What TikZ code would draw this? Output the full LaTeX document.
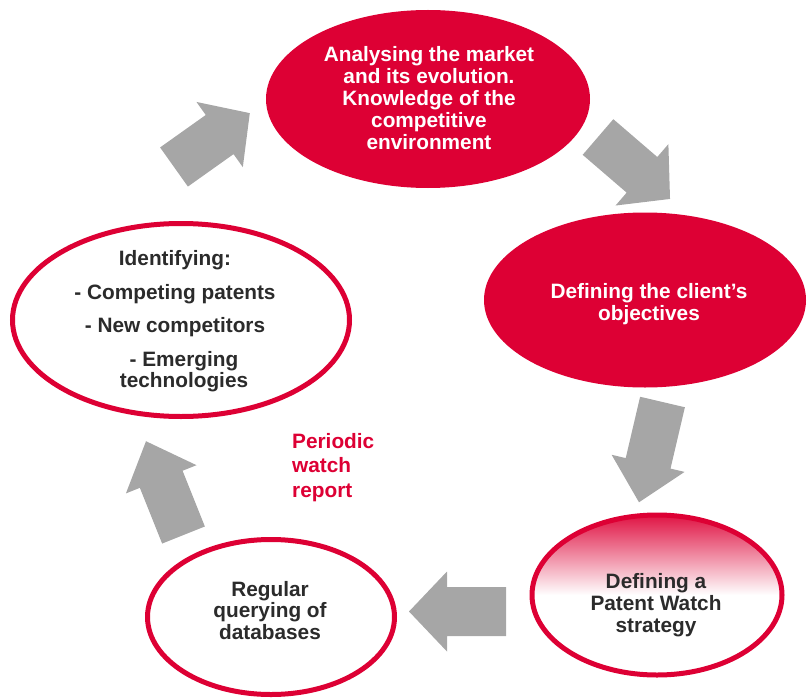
\documentclass[tikz,border=0pt]{standalone}
\usepackage{fontspec}
\setmainfont{Liberation Sans}
\usetikzlibrary{shapes.geometric}

\definecolor{cyclered}{RGB}{221,0,52}
\definecolor{arrowgray}{RGB}{166,166,166}
\definecolor{inkgray}{RGB}{43,43,43}

\tikzset{
  stage/.style={ellipse, inner sep=0pt, outer sep=0pt},
  solidstage/.style={stage, fill=cyclered},
  openstage/.style={stage, draw=cyclered, line width=5pt, fill=white},
  shadedstage/.style={stage, draw=cyclered, line width=5pt,
    top color=cyclered!92!white, bottom color=white, middle color=white},
  stagetext/.style={font=\bfseries\fontsize{20.8}{21.8}\selectfont,
    align=center, inner sep=0pt},
  whitetext/.style={stagetext, text=white},
  darktext/.style={stagetext, text=inkgray},
  % block arrow: length, shaft width, head width, head length
  pics/blockarrow/.style n args={4}{code={
    \fill[arrowgray] (0,{-#2/2}) -- ({#1-#4},{-#2/2}) -- ({#1-#4},{-#3/2})
      -- (#1,0) -- ({#1-#4},{#3/2}) -- ({#1-#4},{#2/2}) -- (0,{#2/2}) -- cycle;
  }}
}

\begin{document}
\begin{tikzpicture}[x=1pt,y=-1pt]
\useasboundingbox (0,0) rectangle (808,698);

% gray block arrows between the stages
\pic[rotate=35.4]   at (174,167)   {blockarrow={93}{48}{80}{37}};
\pic[rotate=-40.7]  at (598,137)   {blockarrow={95}{47}{81}{37}};
\pic[rotate=-103.2] at (662.5,402) {blockarrow={103}{46}{75}{40}};
\pic[rotate=180]    at (506,611.5) {blockarrow={97}{49}{80}{38}};
\pic[rotate=111.8]  at (183.5,535) {blockarrow={101}{46}{76}{41}};

% stages
\node[solidstage, minimum width=324pt, minimum height=178pt] (market) at (428,99) {};
\node[solidstage, minimum width=322pt, minimum height=175pt] (objectives) at (645,300) {};
\node[shadedstage, minimum width=250pt, minimum height=160pt] (strategy) at (657,595) {};
\node[openstage, minimum width=247pt, minimum height=155pt] (querying) at (271,617) {};
\node[openstage, minimum width=337pt, minimum height=193pt] (identifying) at (181,320) {};

% stage texts
\node[whitetext] (markettext) at (429,98)
  {Analysing the market\\and its evolution.\\Knowledge of the\\competitive\\environment};
\node[whitetext] (objectivestext) at (649,304)
  {Defining the client’s\\objectives};
\node[darktext] (strategytext) at (656,605)
  {Defining a\\Patent Watch\\strategy};
\node[darktext] (queryingtext) at (270,610.5)
  {Regular\\querying of\\databases};
\node[darktext] (identifyingtext) at (175,321.5)
  {Identifying:\\[11.5pt]- Competing patents\\[11.5pt]- New competitors\\[12pt]
   \hspace*{18pt}- Emerging\\\hspace*{18pt}technologies};

% report label
\node[stagetext, text=cyclered, align=left, anchor=north west,
      font=\bfseries\fontsize{20.8}{24.5}\selectfont] (report) at (292,433)
  {Periodic\\watch\\report};
\end{tikzpicture}
\end{document}
